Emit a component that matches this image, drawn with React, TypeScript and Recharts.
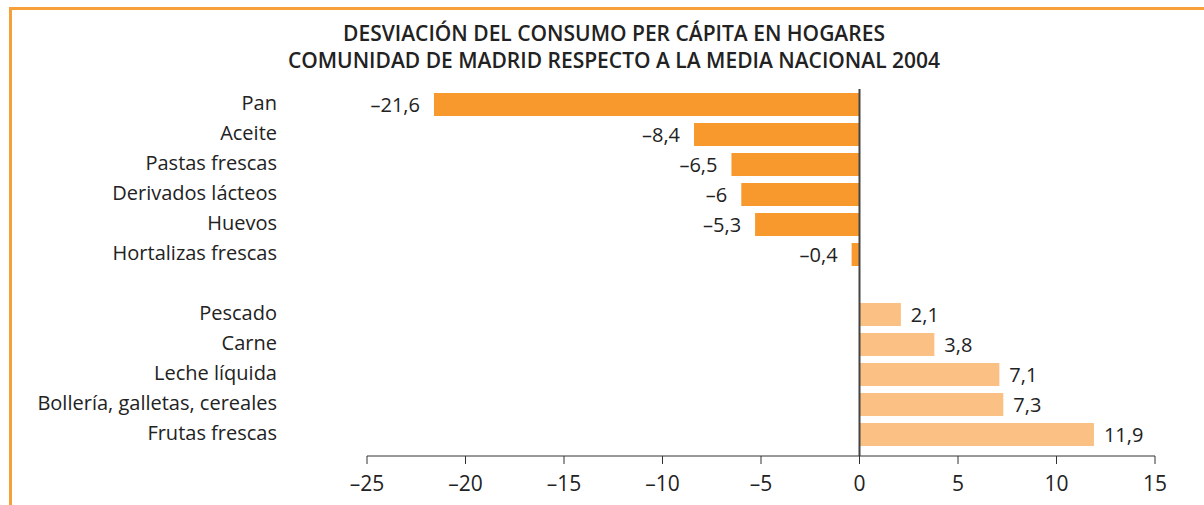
import { BarChart, Bar, XAxis, YAxis, Cell, ReferenceLine, LabelList } from "recharts";

const categories = [
  "Pan",
  "Aceite",
  "Pastas frescas",
  "Derivados lácteos",
  "Huevos",
  "Hortalizas frescas",
  "",
  "Pescado",
  "Carne",
  "Leche líquida",
  "Bollería, galletas, cereales",
  "Frutas frescas",
];
const deviation = [-21.6, -8.4, -6.5, -6, -5.3, -0.4, null, 2.1, 3.8, 7.1, 7.3, 11.9];
const xTicks = [-25, -20, -15, -10, -5, 0, 5, 10, 15];

const data = categories.map((name, i) => ({ name, value: deviation[i] }));

const FONT = "'Open Sans', sans-serif";
const fmt = (v: number) => String(v).replace(".", ",").replace("-", "–");

const ValueLabel = (props: any) => {
  const { x, y, width, height, value } = props;
  if (value == null) return null;
  const left = Math.min(x, x + width);
  const right = Math.max(x, x + width);
  const neg = value < 0;
  return (
    <text
      x={neg ? left - 14 : right + 10}
      y={y + height / 2}
      dy="0.35em"
      textAnchor={neg ? "end" : "start"}
      fill="#222"
      fontSize={20}
      fontFamily={FONT}
    >
      {fmt(value)}
    </text>
  );
};

const CategoryTick = (props: any) => {
  const { x, y, payload } = props;
  return (
    <text x={x} y={y - 1} dy="0.35em" textAnchor="end" fill="#222" fontSize={20} fontFamily={FONT}>
      {payload.value}
    </text>
  );
};

export default function App() {
  return (
    <div style={{ position: "relative", width: 1204, height: 505, background: "#fff", fontFamily: FONT }}>
      <style>{"body{margin:0}"}</style>
      <div
        style={{
          position: "absolute",
          left: 9,
          top: 7,
          right: 0,
          bottom: 0,
          borderLeft: "3px solid #f7a03a",
          borderTop: "3px solid #f7a03a",
        }}
      />
      <div
        style={{
          position: "absolute",
          left: 0,
          top: 20,
          width: 1228,
          textAlign: "center",
          fontWeight: 600,
          fontSize: 21,
          lineHeight: "27px",
          color: "#222",
        }}
      >
        DESVIACIÓN DEL CONSUMO PER CÁPITA EN HOGARES
        <br />
        COMUNIDAD DE MADRID RESPECTO A LA MEDIA NACIONAL 2004
      </div>
      <div style={{ position: "absolute", left: 0, top: 0 }}>
        <BarChart
          width={1204}
          height={505}
          data={data}
          layout="vertical"
          margin={{ top: 89, right: 49, bottom: 9, left: 67 }}
          barCategoryGap={4}
        >
          <XAxis
            type="number"
            domain={[-25, 15]}
            ticks={xTicks}
            tickFormatter={fmt}
            height={40}
            stroke="#333"
            tickSize={8}
            tickMargin={12}
            tick={{ fill: "#222", fontSize: 21, fontFamily: FONT }}
            interval={0}
          />
          <YAxis
            type="category"
            dataKey="name"
            width={300}
            axisLine={false}
            tickLine={false}
            tickMargin={84}
            interval={0}
            padding={{ top: 0, bottom: 7 }}
            tick={<CategoryTick />}
          />
          <Bar dataKey="value" barSize={23} isAnimationActive={false}>
            {data.map((d, i) => (
              <Cell key={i} fill={d.value != null && d.value < 0 ? "#f7992d" : "#fbc083"} />
            ))}
            <LabelList dataKey="value" content={ValueLabel} />
          </Bar>
          <ReferenceLine x={0} stroke="#444" strokeWidth={2} />
        </BarChart>
      </div>
    </div>
  );
}
